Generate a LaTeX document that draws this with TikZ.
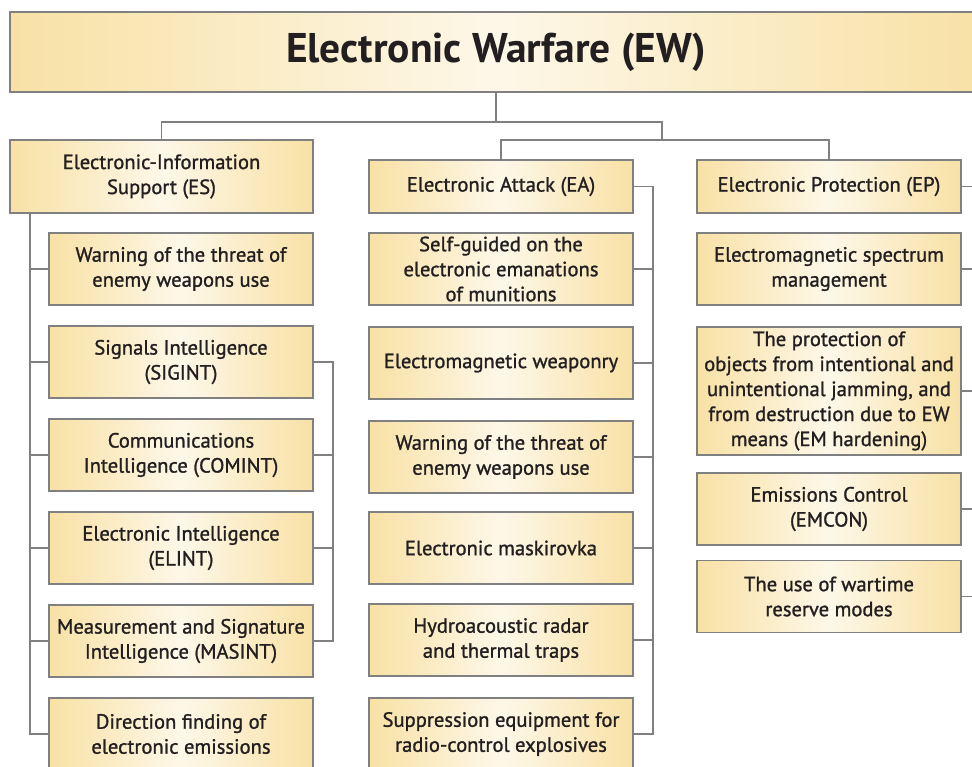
\documentclass[tikz,border=0pt]{standalone}
\usepackage{fontspec}
\setmainfont{PT Sans}
\newfontfamily\medfont[RawFeature={embolden=1.2}]{PT Sans}
\definecolor{ewy}{RGB}{248,225,165}
\definecolor{ewline}{RGB}{128,128,128}
\definecolor{ewtext}{RGB}{35,31,32}
\begin{document}
\begin{tikzpicture}[x=1pt,y=-1pt,
  box/.style={draw=ewline, line width=1.1pt, left color=ewy, right color=ewy, middle color=ewy!25!white,
    align=center, text=ewtext, inner sep=1pt, font=\medfont\fontsize{20.6}{25}\selectfont},
  conn/.style={draw=ewline, line width=1.1pt}]
\useasboundingbox (0,0) rectangle (972,766);
\clip (0,0) rectangle (972,766);
% title
\node[box, minimum width=972pt, minimum height=80pt, font=\fontsize{41.5}{48}\selectfont\bfseries] (ew) at (496,52) {Electronic Warfare (EW)};
% level 1
\node[box, minimum width=303pt, minimum height=73pt] (es) at (161.5,176.5) {Electronic-Information\\Support (ES)};
\node[box, minimum width=264pt, minimum height=53pt] (ea) at (501,186.5) {Electronic Attack (EA)};
\node[box, minimum width=264pt, minimum height=53pt] (ep) at (829,186.5) {Electronic Protection (EP)};
\coordinate (h1) at (662,122);
\coordinate (h2) at (662,140);
\draw[conn] (ew.south) -- (ew.south |- h1);
\draw[conn] (es.north) |- (h1) -- (h2);
\draw[conn] (ea.north) |- (h2) -| (ep.north);
% ES children
\node[box, minimum width=264pt, minimum height=72pt] (es1) at (181,269) {Warning of the threat of\\enemy weapons use};
\node[box, minimum width=264pt, minimum height=72pt] (es2) at (181,362) {Signals Intelligence\\(SIGINT)};
\node[box, minimum width=264pt, minimum height=72pt] (es3) at (181,455) {Communications\\Intelligence (COMINT)};
\node[box, minimum width=264pt, minimum height=72pt] (es4) at (181,548) {Electronic Intelligence\\(ELINT)};
\node[box, minimum width=264pt, minimum height=72pt] (es5) at (181,641) {Measurement and Signature\\Intelligence (MASINT)};
\node[box, minimum width=264pt, minimum height=72pt] (es6) at (181,734) {Direction finding of\\electronic emissions};
\coordinate (esx) at (30,0);
\draw[conn] (es.south -| esx) -- (esx |- es6.west) -- (es6.west);
\foreach \n in {es1,es2,es3,es4,es5} \draw[conn] (esx |- \n.west) -- (\n.west);
\coordinate (sgx) at (333,0);
\draw[conn] (es2.east) -- (sgx |- es2.east) -- (sgx |- es5.east) -- (es5.east);
\foreach \n in {es3,es4} \draw[conn] (sgx |- \n.east) -- (\n.east);
% EA children
\node[box, minimum width=264pt, minimum height=72pt] (ea1) at (501,269) {Self-guided on the\\electronic emanations\\of munitions};
\node[box, minimum width=264pt, minimum height=72pt] (ea2) at (501,363) {Electromagnetic weaponry};
\node[box, minimum width=264pt, minimum height=72pt] (ea3) at (501,457) {Warning of the threat of\\enemy weapons use};
\node[box, minimum width=264pt, minimum height=72pt] (ea4) at (501,548) {Electronic maskirovka};
\node[box, minimum width=264pt, minimum height=72pt] (ea5) at (501,640) {Hydroacoustic radar\\and thermal traps};
\node[box, minimum width=264pt, minimum height=72pt] (ea6) at (501,734) {Suppression equipment for\\radio-control explosives};
\coordinate (eax) at (653,0);
\draw[conn] (ea.east) -- (eax |- ea.east) -- (eax |- ea6.east) -- (ea6.east);
\foreach \n in {ea1,ea2,ea3,ea4,ea5} \draw[conn] (eax |- \n.east) -- (\n.east);
% EP children
\node[box, minimum width=264pt, minimum height=72pt] (ep1) at (829,269) {Electromagnetic spectrum\\management};
\node[box, minimum width=264pt, minimum height=128pt] (ep2) at (829,391) {The protection of\\objects from intentional and\\unintentional jamming, and\\from destruction due to EW\\means (EM hardening)};
\node[box, minimum width=264pt, minimum height=72pt] (ep3) at (829,509) {Emissions Control\\(EMCON)};
\node[box, minimum width=264pt, minimum height=72pt] (ep4) at (829,596.5) {The use of wartime\\reserve modes};
\coordinate (epx) at (990,0);
\foreach \n in {ep,ep1,ep2,ep3,ep4} \draw[conn] (\n.east) -- (epx |- \n.east);
\end{tikzpicture}
\end{document}
